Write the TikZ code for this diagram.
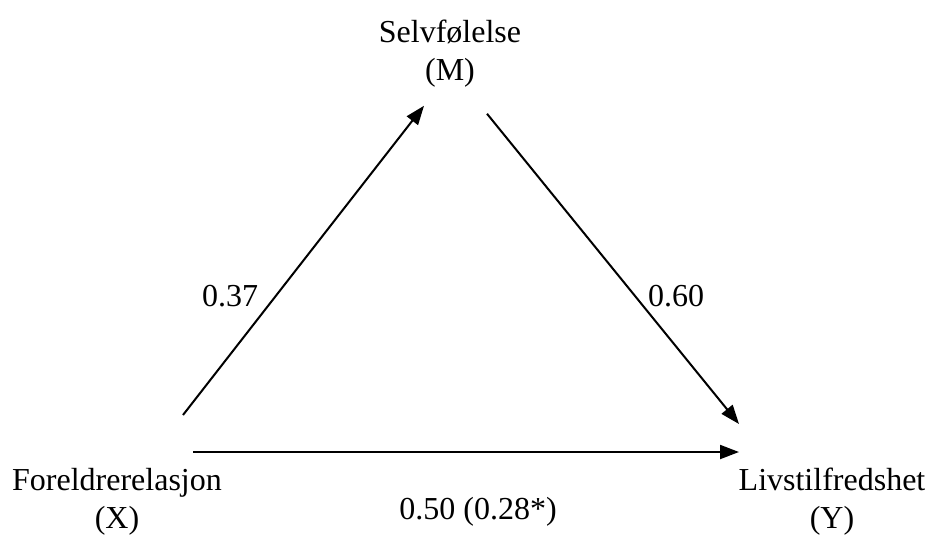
\documentclass[tikz,border=0pt]{standalone}
\usepackage{fontspec}
\setmainfont{Liberation Serif}
\usetikzlibrary{arrows.meta,calc}

\begin{document}
\begin{tikzpicture}[
  x=1pt, y=-1pt,
  font=\fontsize{32}{38}\selectfont,
  >={Triangle[length=19pt,width=14pt]},
  var/.style={align=center, inner sep=0pt, anchor=north},
  flow/.style={->, line width=2pt},
  coef/.style={inner sep=0pt, anchor=base}
]
\useasboundingbox (0,0) rectangle (933,536);

\node[var] (M) at (450,20) {Selvfølelse\\(M)};
\node[var] (X) at (117,468) {Foreldrerelasjon\\(X)};
\node[var] (Y) at (832,468) {Livstilfredshet\\(Y)};

\node[coef] (a) at (230,306) {0.37};
\node[coef] (b) at (676,306) {0.60};
\node[coef] (c) at (478,519) {0.50 (0.28*)};

\draw[flow] ($(X.north)+(66,-53)$) -- ($(M.south)+(-26,18)$);
\draw[flow] ($(M.south)+(37,26)$) -- ($(Y.north)+(-93,-44)$);
\draw[flow] ($(X.north)+(76,-16)$) -- ($(Y.north)+(-93,-16)$);

\end{tikzpicture}
\end{document}
